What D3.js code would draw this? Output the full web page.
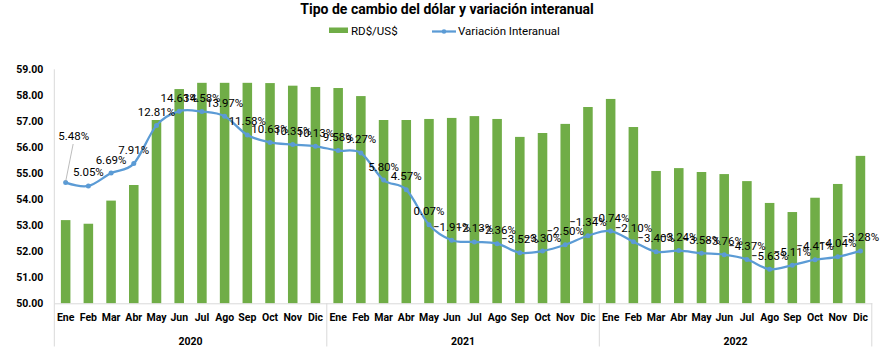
<!DOCTYPE html>
<html>
<head>
<meta charset="utf-8">
<script src="https://cdn.jsdelivr.net/npm/d3@7/dist/d3.min.js"></script>
<style>
  html, body { margin: 0; padding: 0; background: #fff; }
  svg { display: block; }
  text { font-family: Roboto, "Liberation Sans", Arial, sans-serif; }
</style>
</head>
<body>
<svg id="chart" width="895" height="350"></svg>
<script>
const title = "Tipo de cambio del dólar y variación interanual";
const seriesNames = ["RD$/US$", "Variación Interanual"];
const months = ["Ene","Feb","Mar","Abr","May","Jun","Jul","Ago","Sep","Oct","Nov","Dic"];
const years = ["2020","2021","2022"];
const rate2020 = [53.20, 53.06, 53.95, 54.55, 57.05, 58.24, 58.48, 58.48, 58.48, 58.47, 58.37, 58.32];
const rate2021 = [58.28, 57.97, 57.05, 57.05, 57.09, 57.13, 57.20, 57.09, 56.40, 56.55, 56.90, 57.55];
const rate2022 = [57.86, 56.78, 55.09, 55.20, 55.05, 54.97, 54.70, 53.86, 53.51, 54.06, 54.59, 55.67];
const var2020 = [5.48, 5.05, 6.69, 7.91, 12.81, 14.63, 14.58, 13.97, 11.58, 10.63, 10.35, 10.13];
const var2021 = [9.58, 9.27, 5.80, 4.57, 0.07, -1.91, -2.13, -2.36, -3.52, -3.30, -2.50, -1.34];
const var2022 = [-0.74, -2.10, -3.40, -3.24, -3.58, -3.76, -4.37, -5.63, -5.11, -4.41, -4.04, -3.28];
const yTicks = [50, 51, 52, 53, 54, 55, 56, 57, 58, 59];

(function () {
const rates = [rate2020, rate2021, rate2022];
const vars = [var2020, var2021, var2022];
const data = [];
years.forEach((yr, i) => months.forEach((m, j) => {
  data.push({ key: yr + "-" + m, year: yr, month: m, rate: rates[i][j], v: vars[i][j] / 100 });
}));

const svg = d3.select("#chart");
const pLeft = 54.3, pRight = 871.8, pTop = 69.3, pBottom = 303.3;
const green = "#70AD47", blue = "#5B9BD5", axisGrey = "#D9D9D9";

const x = d3.scaleBand().domain(data.map(d => d.key)).range([pLeft, pRight])
  .paddingInner(0.58).paddingOuter(0.29);
const y = d3.scaleLinear().domain([50, 59]).range([pBottom, pTop]);
const y2 = d3.scaleLinear().domain([-0.10, 0.20]).range([pBottom, pTop]);
const cx = k => x(k) + x.bandwidth() / 2;

// Title
svg.append("text").attr("x", 447).attr("y", 14).attr("text-anchor", "middle")
  .attr("font-size", 14).attr("font-weight", "bold").attr("fill", "#000").text(title);

// Legend
svg.append("rect").attr("x", 329).attr("y", 27.5).attr("width", 19).attr("height", 5.5).attr("fill", green);
svg.append("text").attr("x", 351).attr("y", 35).attr("font-size", 11.5).attr("fill", "#000").text(seriesNames[0]);
svg.append("line").attr("x1", 432).attr("x2", 456).attr("y1", 31.5).attr("y2", 31.5)
  .attr("stroke", blue).attr("stroke-width", 2.25);
svg.append("circle").attr("cx", 444).attr("cy", 31.5).attr("r", 2.3).attr("fill", blue);
svg.append("text").attr("x", 458).attr("y", 35).attr("font-size", 11.5).attr("fill", "#000").text(seriesNames[1]);

// Y axis
const yAxis = d3.axisLeft(y).tickValues(yTicks).tickFormat(d3.format(".2f")).tickSize(0).tickPadding(11);
const gy = svg.append("g").attr("transform", `translate(${pLeft},0)`).call(yAxis);
gy.select(".domain").remove();
gy.selectAll("text").attr("font-size", 10.5).attr("font-weight", "bold").attr("fill", "#000")
  .style("font-family", "Roboto, 'Liberation Sans', sans-serif");
svg.append("line").attr("x1", pLeft).attr("x2", pLeft).attr("y1", pTop).attr("y2", 346.5)
  .attr("stroke", axisGrey).attr("stroke-width", 1);

// Bars
svg.append("g").selectAll("rect").data(data).join("rect")
  .attr("x", d => x(d.key)).attr("width", x.bandwidth())
  .attr("y", d => y(d.rate)).attr("height", d => y(50) - y(d.rate))
  .attr("fill", green);

// X axis
const xAxis = d3.axisBottom(x).tickFormat(k => k.split("-")[1]).tickSize(0).tickPadding(10);
const gx = svg.append("g").attr("transform", `translate(0,${pBottom})`).call(xAxis);
gx.select(".domain").attr("stroke", axisGrey);
gx.selectAll("text").attr("font-size", 10.5).attr("font-weight", "bold").attr("fill", "#000")
  .style("font-family", "Roboto, 'Liberation Sans', sans-serif");

// Year groups
years.forEach((yr, i) => {
  const first = x(yr + "-" + months[0]) - x.step() * x.paddingInner() / 2;
  const last = x(yr + "-" + months[11]) + x.bandwidth() + x.step() * x.paddingInner() / 2;
  svg.append("line").attr("x1", last).attr("x2", last).attr("y1", pBottom).attr("y2", 346.5)
    .attr("stroke", axisGrey).attr("stroke-width", 1);
  svg.append("text").attr("x", (first + last) / 2).attr("y", 345)
    .attr("text-anchor", "middle").attr("font-size", 10.5).attr("font-weight", "bold").attr("fill", "#000")
    .text(yr);
});

// Line
const line = d3.line().x(d => cx(d.key)).y(d => y2(d.v)).curve(d3.curveCardinal.tension(0));
svg.append("path").datum(data).attr("d", line).attr("fill", "none")
  .attr("stroke", blue).attr("stroke-width", 2.25).attr("stroke-linejoin", "round");
svg.append("g").selectAll("circle").data(data).join("circle")
  .attr("cx", d => cx(d.key)).attr("cy", d => y2(d.v)).attr("r", 2.5).attr("fill", blue);

// Labels
const fmt = d => d3.format(".2f")(d * 100) + "%";
svg.append("g").selectAll("text").data(data).join("text")
  .attr("x", (d, i) => cx(d.key) + (i === 0 ? 8 : 0))
  .attr("y", (d, i) => i === 0 ? 139.5 : y2(d.v) - 9.5)
  .attr("text-anchor", "middle").attr("font-size", 11.5).attr("fill", "#000")
  .text(d => fmt(d.v));
// leader line for first label
const d0 = data[0];
svg.append("line").attr("x1", cx(d0.key)).attr("y1", y2(d0.v) - 1)
  .attr("x2", cx(d0.key) + 7.5).attr("y2", 144)
  .attr("stroke", "#A6A6A6").attr("stroke-width", 0.75);
})();
</script>
</body>
</html>
